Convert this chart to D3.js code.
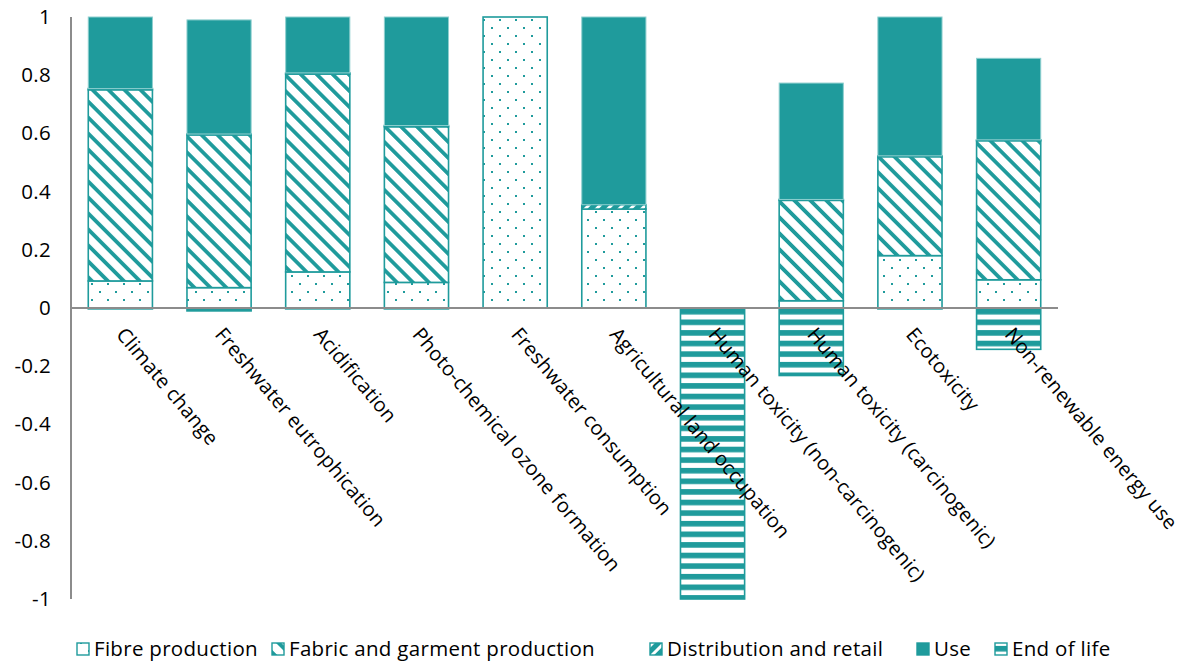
<!DOCTYPE html>
<html>
<head>
<meta charset="utf-8">
<script src="https://cdn.jsdelivr.net/npm/d3@7/dist/d3.min.js"></script>
<style>
  html, body { margin: 0; padding: 0; background: #fff; }
  svg { display: block; font-family: "Open Sans", Lato, sans-serif; }
</style>
</head>
<body>
<svg id="chart" width="1190" height="664"></svg>
<script>
// Life-cycle impact categories (normalised contributions per stage)
const categories = [
  "Climate change",
  "Freshwater eutrophication",
  "Acidification",
  "Photo-chemical ozone formation",
  "Freshwater consumption",
  "Agricultural land occupation",
  "Human toxicity (non-carcinogenic)",
  "Human toxicity (carcinogenic)",
  "Ecotoxicity",
  "Non-renewable energy use"
];
const fibreProduction   = [0.093, 0.070, 0.124, 0.088, 1.000, 0.340, 0.000, 0.025, 0.180, 0.097];
const fabricGarment     = [0.657, 0.525, 0.680, 0.535, 0.000, 0.000, 0.000, 0.345, 0.340, 0.478];
const distributionRetail= [0.004, 0.003, 0.004, 0.004, 0.000, 0.015, 0.000, 0.003, 0.003, 0.003];
const useStage          = [0.246, 0.392, 0.192, 0.373, 0.000, 0.645, 0.000, 0.400, 0.477, 0.280];
const endOfLife         = [-0.003, -0.010, -0.003, -0.003, 0.000, 0.000, -1.000, -0.232, -0.003, -0.142];
const yTicks = [1, 0.8, 0.6, 0.4, 0.2, 0, -0.2, -0.4, -0.6, -0.8, -1];

const stages = [
  { key: "fibre", name: "Fibre production", values: fibreProduction },
  { key: "fabric", name: "Fabric and garment production", values: fabricGarment },
  { key: "dist", name: "Distribution and retail", values: distributionRetail },
  { key: "use", name: "Use", values: useStage },
  { key: "eol", name: "End of life", values: endOfLife }
];

const teal = "#1f9b9c";
const fontSize = 20.5;
const spacing = "0.3px";
const svg = d3.select("#chart");
const margin = { left: 71, right: 1058, top: 17, bottom: 599 };

const x = d3.scaleBand().domain(categories).range([margin.left, margin.right]).paddingInner(0.35).paddingOuter(0.175);
const y = d3.scaleLinear().domain([-1, 1]).range([margin.bottom, margin.top]);

// Fill patterns for each life-cycle stage
const defs = svg.append("defs");
const pDots = defs.append("pattern").attr("id", "p-fibre").attr("patternUnits", "userSpaceOnUse")
  .attr("width", 16).attr("height", 16);
pDots.append("rect").attr("width", 16).attr("height", 16).attr("fill", "#fff");
pDots.append("rect").attr("x", 3).attr("y", 3).attr("width", 2).attr("height", 2).attr("fill", teal);
pDots.append("rect").attr("x", 11).attr("y", 11).attr("width", 2).attr("height", 2).attr("fill", teal);

const pDiag = defs.append("pattern").attr("id", "p-fabric").attr("patternUnits", "userSpaceOnUse")
  .attr("width", 11.3).attr("height", 11.3).attr("patternTransform", "rotate(-45)");
pDiag.append("rect").attr("width", 11.3).attr("height", 11.3).attr("fill", "#fff");
pDiag.append("rect").attr("x", 0).attr("y", 0).attr("width", 3.8).attr("height", 11.3).attr("fill", teal);

const pDash = defs.append("pattern").attr("id", "p-dist").attr("patternUnits", "userSpaceOnUse")
  .attr("width", 8).attr("height", 8).attr("patternTransform", "rotate(45)");
pDash.append("rect").attr("width", 8).attr("height", 8).attr("fill", teal);
pDash.append("rect").attr("x", 0).attr("y", 0).attr("width", 3).attr("height", 8).attr("fill", "#fff");

const pHoriz = defs.append("pattern").attr("id", "p-eol").attr("patternUnits", "userSpaceOnUse")
  .attr("width", 10).attr("height", 10.6).attr("y", 1.5);
pHoriz.append("rect").attr("width", 10).attr("height", 10.6).attr("fill", "#fff");
pHoriz.append("rect").attr("x", 0).attr("y", 0).attr("width", 10).attr("height", 5.6).attr("fill", teal);

const fills = { fibre: "url(#p-fibre)", fabric: "url(#p-fabric)", dist: "url(#p-dist)", use: teal, eol: "url(#p-eol)" };

// Stacked segments: positives stack upward from zero, negatives downward
const segments = [];
categories.forEach((c, i) => {
  let pos = 0, neg = 0;
  stages.forEach(s => {
    const v = s.values[i];
    if (v === 0) return;
    if (v > 0) { segments.push({ c, key: s.key, y0: pos, y1: pos + v }); pos += v; }
    else { segments.push({ c, key: s.key, y0: neg + v, y1: neg }); neg += v; }
  });
});

svg.append("g").selectAll("rect").data(segments).join("rect")
  .attr("x", d => x(d.c))
  .attr("width", x.bandwidth())
  .attr("y", d => y(d.y1))
  .attr("height", d => Math.max(0.5, y(d.y0) - y(d.y1)))
  .attr("fill", d => fills[d.key])
  .attr("stroke", d => d.key === "use" ? "#8fcfcf" : teal)
  .attr("stroke-width", d => d.key === "use" ? 1 : 1.6);

// Y axis line and zero baseline
svg.append("line").attr("x1", margin.left).attr("x2", margin.left)
  .attr("y1", y(1)).attr("y2", y(-1)).attr("stroke", "#8c8c8c").attr("stroke-width", 2);
svg.append("line").attr("x1", margin.left).attr("x2", margin.right)
  .attr("y1", y(0)).attr("y2", y(0)).attr("stroke", "#8c8c8c").attr("stroke-width", 2);

// Y tick labels
const yAxis = d3.axisLeft(y).tickValues(yTicks).tickSize(0).tickPadding(20).tickFormat(d => d3.format("")(d).replace("−", "-"));
const gy = svg.append("g").attr("transform", `translate(${margin.left},0)`).call(yAxis);
gy.select(".domain").remove();
gy.selectAll("text").attr("font-size", fontSize).attr("fill", "#000")
  .attr("font-family", "'Open Sans', sans-serif").attr("letter-spacing", spacing);

// Rotated category labels
svg.append("g").selectAll("text").data(categories).join("text")
  .attr("transform", d => `translate(${x(d) + x.bandwidth() / 2 - 5},${y(0) + 27}) rotate(50)`)
  .attr("font-size", 20)
  .attr("letter-spacing", "0.2px")
  .attr("fill", "#000")
  .text(d => d);

// Legend, one swatch and label per stage
const legendX = [77, 272, 650, 917, 995];
const legend = svg.append("g").attr("transform", "translate(0,655)");
stages.forEach((s, i) => {
  const g = legend.append("g").attr("transform", `translate(${legendX[i]},0)`);
  g.append("rect").attr("x", 0).attr("y", -12).attr("width", 12).attr("height", 12)
    .attr("fill", fills[s.key]).attr("stroke", teal).attr("stroke-width", 1.4);
  g.append("text").attr("x", 17).attr("y", 1).attr("font-size", fontSize)
    .attr("letter-spacing", spacing).attr("fill", "#000").text(s.name);
});
</script>
</body>
</html>
